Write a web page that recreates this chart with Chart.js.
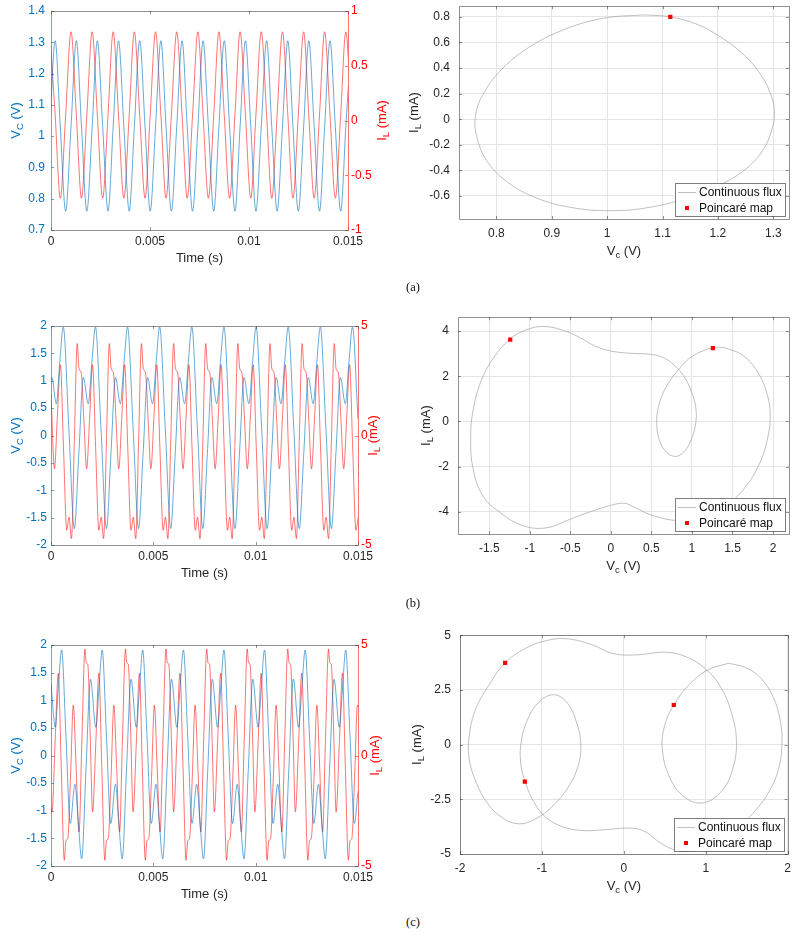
<!DOCTYPE html>
<html lang="en">
<head>
<meta charset="UTF-8"/>
<title>Capacitor voltage, inductor current and phase portraits</title>
<script src="https://cdn.jsdelivr.net/npm/chart.js"></script>
<style>
  body { margin:0; background:#fff; width:799px; height:936px; position:relative; overflow:hidden; }
  .box { position:absolute; }
  .tag { position:absolute; font-family:'Liberation Serif','DejaVu Serif',serif; font-size:12.5px; color:#111; transform:translate(-50%,-50%); }
</style>
</head>
<body>
<div class="box" id="ta"><canvas></canvas></div>
<div class="box" id="pa"><canvas></canvas></div>
<div class="box" id="tb"><canvas></canvas></div>
<div class="box" id="pb"><canvas></canvas></div>
<div class="box" id="tc"><canvas></canvas></div>
<div class="box" id="pc"><canvas></canvas></div>
<div class="tag" style="left:413px;top:287px">(a)</div>
<div class="tag" style="left:413px;top:603px">(b)</div>
<div class="tag" style="left:413px;top:922px">(c)</div>

<script>
// ---------- data (time in ms, V_C in V, I_L in mA) ----------
// (a) period-1 oscillation
const tA = [-0.06, 0.21, 0.47, 0.74, 1.01, 1.28, 1.54, 1.81, 2.08, 2.34, 2.61, 2.88, 3.14, 3.41, 3.68, 3.95,
  4.21, 4.48, 4.75, 5.01, 5.28, 5.55, 5.81, 6.08, 6.35, 6.62, 6.88, 7.15, 7.42, 7.68, 7.95, 8.22, 8.48, 8.75,
  9.02, 9.29, 9.55, 9.82, 10.09, 10.35, 10.62, 10.89, 11.15, 11.42, 11.69, 11.96, 12.22, 12.49, 12.76, 13.02,
  13.29, 13.56, 13.82, 14.09, 14.36, 14.63, 14.89, 15.16];
const vcA = [1.03, 1.305, 1.03, 0.76, 1.03, 1.305, 1.03, 0.76, 1.03, 1.305, 1.03, 0.76, 1.03, 1.305, 1.03, 0.76,
  1.03, 1.305, 1.03, 0.76, 1.03, 1.305, 1.03, 0.76, 1.03, 1.305, 1.03, 0.76, 1.03, 1.305, 1.03, 0.76,
  1.03, 1.305, 1.03, 0.76, 1.03, 1.305, 1.03, 0.76, 1.03, 1.305, 1.03, 0.76, 1.03, 1.305, 1.03, 0.76,
  1.03, 1.305, 1.03, 0.76, 1.03, 1.305, 1.03, 0.76, 1.03, 1.305];
const ilA = [0.81, 0.05, -0.71, 0.05, 0.81, 0.05, -0.71, 0.05, 0.81, 0.05, -0.71, 0.05, 0.81, 0.05, -0.71, 0.05,
  0.81, 0.05, -0.71, 0.05, 0.81, 0.05, -0.71, 0.05, 0.81, 0.05, -0.71, 0.05, 0.81, 0.05, -0.71, 0.05,
  0.81, 0.05, -0.71, 0.05, 0.81, 0.05, -0.71, 0.05, 0.81, 0.05, -0.71, 0.05, 0.81, 0.05, -0.71, 0.05,
  0.81, 0.05, -0.71, 0.05, 0.81, 0.05, -0.71, 0.05, 0.81, 0.05];

// (b) period-2 oscillation
const tVcB = [0, 0.04, 0.26, 0.43,
  0.60, 0.87, 1.14, 1.36, 1.58, 1.82, 2.00,
  2.17, 2.44, 2.71, 2.93, 3.15, 3.39, 3.57,
  3.74, 4.01, 4.28, 4.50, 4.72, 4.96, 5.14,
  5.31, 5.58, 5.85, 6.07, 6.29, 6.53, 6.71,
  6.88, 7.15, 7.42, 7.64, 7.86, 8.10, 8.28,
  8.45, 8.72, 8.99, 9.21, 9.43, 9.67, 9.85,
  10.02, 10.29, 10.56, 10.78, 11.00, 11.24, 11.42,
  11.59, 11.86, 12.13, 12.35, 12.57, 12.81, 12.99,
  13.16, 13.43, 13.70, 13.92, 14.14, 14.38, 14.56,
  14.73, 15.00];
const vcB = [1.02, 1.06, 0.58, 1.35,
  1.98, 0.15, -1.70, -0.33, 1.06, 0.58, 1.35,
  1.98, 0.15, -1.70, -0.33, 1.06, 0.58, 1.35,
  1.98, 0.15, -1.70, -0.33, 1.06, 0.58, 1.35,
  1.98, 0.15, -1.70, -0.33, 1.06, 0.58, 1.35,
  1.98, 0.15, -1.70, -0.33, 1.06, 0.58, 1.35,
  1.98, 0.15, -1.70, -0.33, 1.06, 0.58, 1.35,
  1.98, 0.15, -1.70, -0.33, 1.06, 0.58, 1.35,
  1.98, 0.15, -1.70, -0.33, 1.06, 0.58, 1.35,
  1.98, 0.15, -1.70, -0.33, 1.06, 0.58, 1.35,
  1.98, 0.30];
const tIlB = [0, 0.17, 0.31, 0.46, 0.61,
  0.77, 0.88, 1.00, 1.14, 1.28, 1.37, 1.48, 1.61, 1.74, 1.89, 2.03, 2.18,
  2.34, 2.45, 2.57, 2.71, 2.85, 2.94, 3.05, 3.18, 3.31, 3.46, 3.60, 3.75,
  3.91, 4.02, 4.14, 4.28, 4.42, 4.51, 4.62, 4.75, 4.88, 5.03, 5.17, 5.32,
  5.48, 5.59, 5.71, 5.85, 5.99, 6.08, 6.19, 6.32, 6.45, 6.60, 6.74, 6.89,
  7.05, 7.16, 7.28, 7.42, 7.56, 7.65, 7.76, 7.89, 8.02, 8.17, 8.31, 8.46,
  8.62, 8.73, 8.85, 8.99, 9.13, 9.22, 9.33, 9.46, 9.59, 9.74, 9.88, 10.03,
  10.19, 10.30, 10.42, 10.56, 10.70, 10.79, 10.90, 11.03, 11.16, 11.31, 11.45, 11.60,
  11.76, 11.87, 11.99, 12.13, 12.27, 12.36, 12.47, 12.60, 12.73, 12.88, 13.02, 13.17,
  13.33, 13.44, 13.56, 13.70, 13.84, 13.93, 14.04, 14.17, 14.30, 14.45, 14.59, 14.74,
  14.90, 15.01];
const ilB = [1.9, -1.52, 0.85, 3.23, -0.55,
  -4.33, -3.73, -4.71, -0.25, 4.20, 3.05, 2.85, 0.65, -1.52, 0.85, 3.23, -0.55,
  -4.33, -3.73, -4.71, -0.25, 4.20, 3.05, 2.85, 0.65, -1.52, 0.85, 3.23, -0.55,
  -4.33, -3.73, -4.71, -0.25, 4.20, 3.05, 2.85, 0.65, -1.52, 0.85, 3.23, -0.55,
  -4.33, -3.73, -4.71, -0.25, 4.20, 3.05, 2.85, 0.65, -1.52, 0.85, 3.23, -0.55,
  -4.33, -3.73, -4.71, -0.25, 4.20, 3.05, 2.85, 0.65, -1.52, 0.85, 3.23, -0.55,
  -4.33, -3.73, -4.71, -0.25, 4.20, 3.05, 2.85, 0.65, -1.52, 0.85, 3.23, -0.55,
  -4.33, -3.73, -4.71, -0.25, 4.20, 3.05, 2.85, 0.65, -1.52, 0.85, 3.23, -0.55,
  -4.33, -3.73, -4.71, -0.25, 4.20, 3.05, 2.85, 0.65, -1.52, 0.85, 3.23, -0.55,
  -4.33, -3.73, -4.71, -0.25, 4.20, 3.05, 2.85, 0.65, -1.52, 0.85, 3.23, -0.55,
  -4.33, -3.73];

// (c) period-3 oscillation
const tVcC = [0, 0.21, 0.36,
  0.52, 0.73, 0.94, 1.17, 1.33, 1.50, 1.71, 1.93, 2.19, 2.35,
  2.50, 2.71, 2.92, 3.15, 3.31, 3.48, 3.69, 3.91, 4.17, 4.33,
  4.48, 4.69, 4.90, 5.13, 5.29, 5.46, 5.67, 5.89, 6.15, 6.31,
  6.47, 6.68, 6.89, 7.12, 7.28, 7.45, 7.66, 7.88, 8.14, 8.30,
  8.45, 8.66, 8.87, 9.10, 9.26, 9.43, 9.64, 9.86, 10.12, 10.28,
  10.43, 10.64, 10.85, 11.08, 11.24, 11.41, 11.62, 11.84, 12.10, 12.26,
  12.42, 12.63, 12.84, 13.07, 13.23, 13.40, 13.61, 13.83, 14.09, 14.25,
  14.40, 14.61, 14.82, 15.00];
const vcC = [1.30, 0.51, 1.25,
  1.91, 0.35, -1.23, -0.52, -1.20, -1.87, -0.25, 1.38, 0.51, 1.25,
  1.91, 0.35, -1.23, -0.52, -1.20, -1.87, -0.25, 1.38, 0.51, 1.25,
  1.91, 0.35, -1.23, -0.52, -1.20, -1.87, -0.25, 1.38, 0.51, 1.25,
  1.91, 0.35, -1.23, -0.52, -1.20, -1.87, -0.25, 1.38, 0.51, 1.25,
  1.91, 0.35, -1.23, -0.52, -1.20, -1.87, -0.25, 1.38, 0.51, 1.25,
  1.91, 0.35, -1.23, -0.52, -1.20, -1.87, -0.25, 1.38, 0.51, 1.25,
  1.91, 0.35, -1.23, -0.52, -1.20, -1.87, -0.25, 1.38, 0.51, 1.25,
  1.91, 0.35, -1.23, -0.65];
const tIlC = [0, 0.05, 0.20, 0.355,
  0.50, 0.65, 0.73, 0.82, 0.96, 1.09, 1.23, 1.37, 1.51, 1.66, 1.72, 1.80, 1.92, 2.03, 2.19, 2.34,
  2.48, 2.63, 2.71, 2.80, 2.94, 3.07, 3.21, 3.35, 3.49, 3.64, 3.70, 3.78, 3.90, 4.01, 4.17, 4.32,
  4.46, 4.61, 4.69, 4.78, 4.92, 5.05, 5.19, 5.33, 5.47, 5.62, 5.68, 5.76, 5.88, 5.99, 6.15, 6.30,
  6.45, 6.60, 6.68, 6.77, 6.91, 7.04, 7.18, 7.32, 7.46, 7.61, 7.67, 7.75, 7.87, 7.98, 8.14, 8.29,
  8.43, 8.58, 8.66, 8.75, 8.89, 9.02, 9.16, 9.30, 9.44, 9.59, 9.65, 9.73, 9.85, 9.96, 10.12, 10.27,
  10.41, 10.56, 10.64, 10.73, 10.87, 11.00, 11.14, 11.28, 11.42, 11.57, 11.63, 11.71, 11.83, 11.94, 12.10, 12.25,
  12.40, 12.55, 12.63, 12.72, 12.86, 12.99, 13.13, 13.27, 13.41, 13.56, 13.62, 13.70, 13.82, 13.93, 14.09, 14.24,
  14.38, 14.53, 14.61, 14.70, 14.84, 14.97, 15.00];
const ilC = [-2.3, -2.55, 0.6, 3.72,
  -0.5, -4.74, -3.85, -3.75, -0.8, 2.28, -0.6, -3.46, 0.7, 4.82, 4.2, 4.1, 0.8, -2.55, 0.6, 3.72,
  -0.5, -4.74, -3.85, -3.75, -0.8, 2.28, -0.6, -3.46, 0.7, 4.82, 4.2, 4.1, 0.8, -2.55, 0.6, 3.72,
  -0.5, -4.74, -3.85, -3.75, -0.8, 2.28, -0.6, -3.46, 0.7, 4.82, 4.2, 4.1, 0.8, -2.55, 0.6, 3.72,
  -0.5, -4.74, -3.85, -3.75, -0.8, 2.28, -0.6, -3.46, 0.7, 4.82, 4.2, 4.1, 0.8, -2.55, 0.6, 3.72,
  -0.5, -4.74, -3.85, -3.75, -0.8, 2.28, -0.6, -3.46, 0.7, 4.82, 4.2, 4.1, 0.8, -2.55, 0.6, 3.72,
  -0.5, -4.74, -3.85, -3.75, -0.8, 2.28, -0.6, -3.46, 0.7, 4.82, 4.2, 4.1, 0.8, -2.55, 0.6, 3.72,
  -0.5, -4.74, -3.85, -3.75, -0.8, 2.28, -0.6, -3.46, 0.7, 4.82, 4.2, 4.1, 0.8, -2.55, 0.6, 3.72,
  -0.5, -4.74, -3.85, -3.75, -0.8, 2.28, 2.2];

// phase portraits: continuous flux loops and Poincaré points
const loopVA = [1.066, 1.114, 1.160, 1.200, 1.240, 1.272, 1.293, 1.302, 1.296, 1.280, 1.250, 1.205, 1.145,
  1.075, 1.005, 0.935, 0.872, 0.821, 0.785, 0.766, 0.762, 0.778, 0.812, 0.862, 0.925, 0.995, 1.066];
const loopIA = [0.815, 0.800, 0.745, 0.655, 0.530, 0.380, 0.220, 0.060, -0.100, -0.250, -0.390, -0.510, -0.615,
  -0.690, -0.715, -0.690, -0.615, -0.495, -0.340, -0.160, 0.020, 0.210, 0.400, 0.570, 0.705, 0.790, 0.815];
const mapVA = [1.114];
const mapIA = [0.80];

const loopVB = [1.40, 1.62, 1.80, 1.92, 1.965, 1.93, 1.83, 1.66, 1.45, 1.15, 0.85, 0.50, 0.30, 0.17, 0.02,
  -0.25, -0.50, -0.80, -1.10, -1.38, -1.58, -1.70, -1.73, -1.70, -1.60, -1.45, -1.25, -1.05, -0.83, -0.60,
  -0.40, -0.20, 0.00, 0.25, 0.50, 0.65, 0.78, 0.90, 0.99, 1.05, 1.04, 0.98, 0.90, 0.80, 0.69, 0.60, 0.565,
  0.59, 0.67, 0.80, 0.97, 1.15, 1.26, 1.40];
const loopIB = [3.27, 2.95, 2.25, 1.30, 0.30, -0.80, -1.90, -2.90, -3.65, -4.20, -4.40, -4.15, -3.82, -3.63,
  -3.70, -4.00, -4.33, -4.72, -4.60, -4.00, -3.30, -2.10, -0.80, 0.50, 1.80, 2.80, 3.63, 4.05, 4.21, 4.05,
  3.75, 3.35, 3.12, 3.02, 2.97, 2.82, 2.50, 2.00, 1.35, 0.55, -0.20, -0.90, -1.35, -1.55, -1.38, -0.85,
  -0.05, 0.70, 1.45, 2.15, 2.80, 3.15, 3.25, 3.27];
const mapVB = [-1.242, 1.258];
const mapIB = [3.63, 3.25];

const loopVC = [1.28, 1.50, 1.68, 1.82, 1.91, 1.93, 1.89, 1.78, 1.62, 1.42, 1.18, 0.90, 0.65, 0.45, 0.27,
  0.10, -0.20, -0.50, -0.75, -0.96, -1.10, -1.20, -1.26, -1.25, -1.18, -1.06, -0.87, -0.70, -0.58, -0.525,
  -0.56, -0.68, -0.88, -1.08, -1.28, -1.48, -1.66, -1.80, -1.89, -1.88, -1.80, -1.65, -1.449, -1.20,
  -0.95, -0.70, -0.40, -0.13, 0.15, 0.52, 0.78, 1.00, 1.18, 1.31, 1.375, 1.33, 1.20, 0.97, 0.74, 0.56,
  0.47, 0.50, 0.61, 0.80, 1.02, 1.28];
const loopIC = [3.72, 3.50, 3.00, 2.20, 1.10, 0.00, -1.10, -2.10, -2.95, -3.70, -4.35, -4.80, -4.84, -4.50,
  -4.00, -3.82, -3.88, -3.93, -3.75, -3.30, -2.60, -1.75, -0.80, 0.20, 1.10, 1.85, 2.28, 1.95, 1.05, 0.00,
  -1.00, -1.95, -2.85, -3.40, -3.62, -3.35, -2.70, -1.75, -0.60, 0.60, 1.70, 2.70, 3.73, 4.40,
  4.75, 4.84, 4.58, 4.16, 4.10, 4.22, 3.98, 3.45, 2.65, 1.50, 0.15, -1.10, -2.10, -2.66, -2.40, -1.50,
  -0.20, 0.90, 1.81, 2.75, 3.40, 3.72];
const mapVC = [-1.449, -1.209, 0.61];
const mapIC = [3.73, -1.69, 1.81];

// tick values
const timeTicks = [0, 0.005, 0.01, 0.015];
const vcTicksA = [0.7, 0.8, 0.9, 1, 1.1, 1.2, 1.3, 1.4];
const ilTicksA = [-1, -0.5, 0, 0.5, 1];
const vcTicksBC = [-2, -1.5, -1, -0.5, 0, 0.5, 1, 1.5, 2];
const ilTicksBC = [-5, 0, 5];
const pvTicksA = [0.8, 0.9, 1, 1.1, 1.2, 1.3];
const piTicksA = [-0.6, -0.4, -0.2, 0, 0.2, 0.4, 0.6, 0.8];
const pvTicksB = [-1.5, -1, -0.5, 0, 0.5, 1, 1.5, 2];
const piTicksB = [-4, -2, 0, 2, 4];
const pvTicksC = [-2, -1, 0, 1, 2];
const piTicksC = [-5, -2.5, 0, 2.5, 5];

// ---------- styling ----------
const FONT = "'Liberation Sans', Arial, Helvetica, sans-serif";
const INK = '#262626';
const BLUE = '#0072BD', RED = '#FF0000';
const BLUE_LINE = 'rgba(0,114,189,0.6)', RED_LINE = 'rgba(255,0,0,0.55)';
const AXIS_GREY = 'rgba(38,38,38,0.5)';
const GRID = '#e4e4e4';
const LOOP = 'rgba(150,150,150,0.6)';

const pts = (xs, ys, k = 1) => xs.map((x, i) => ({ x: x * k, y: ys[i] }));
const fmt = v => String(Math.round(v * 10000) / 10000);

function place(id, area, m) {
  const el = document.getElementById(id);
  el.style.left = (area.l - m.l) + 'px';
  el.style.top = (area.t - m.t) + 'px';
  el.style.width = (area.r - area.l + m.l + m.r) + 'px';
  el.style.height = (area.b - area.t + m.t + m.b) + 'px';
  return el.querySelector('canvas');
}

function axis(list, color, pad, extra) {
  return Object.assign({
    type: 'linear',
    afterBuildTicks: s => { s.ticks = list.map(v => ({ value: v })); },
    ticks: { color, padding: pad, font: { family: FONT, size: 12 }, callback: v => fmt(v), autoSkip: false, maxRotation: 0 },
    grid: { display: false, drawTicks: false },
    border: { display: false },
    title: { display: false }
  }, extra);
}

// text with a subscript part, centred on (x, y)
function rich(ctx, parts, x, y, rot, color) {
  const S = 13, s = 9.5;
  ctx.save();
  ctx.translate(x, y);
  ctx.rotate(rot);
  ctx.fillStyle = color;
  ctx.textBaseline = 'middle';
  ctx.textAlign = 'left';
  let w = 0;
  const ws = parts.map(p => { ctx.font = (p[1] ? s : S) + 'px ' + FONT; const m = ctx.measureText(p[0]).width; w += m; return m; });
  let cx = -w / 2;
  parts.forEach((p, i) => { ctx.font = (p[1] ? s : S) + 'px ' + FONT; ctx.fillText(p[0], cx, p[1] ? 4.5 : 0); cx += ws[i]; });
  ctx.restore();
}

function labels(items) {
  return {
    id: 'labels',
    afterDraw(chart) {
      const a = chart.chartArea;
      items.forEach(it => {
        if (it.side === 'bottom') rich(chart.ctx, it.parts, (a.left + a.right) / 2, a.bottom + it.off, 0, it.color);
        else if (it.side === 'left') rich(chart.ctx, it.parts, a.left - it.off, (a.top + a.bottom) / 2, -Math.PI / 2, it.color);
        else rich(chart.ctx, it.parts, a.right + it.off, (a.top + a.bottom) / 2, -Math.PI / 2, it.color);
      });
    }
  };
}

// box with small inward ticks, like the original axes
function frame(c) {
  return {
    id: 'frame',
    afterDatasetsDraw(chart) {
      const { ctx, chartArea: a, scales } = chart;
      const px = v => Math.round(v) + 0.5;
      const seg = (x1, y1, x2, y2, col) => { ctx.strokeStyle = col; ctx.beginPath(); ctx.moveTo(x1, y1); ctx.lineTo(x2, y2); ctx.stroke(); };
      const T = 3;
      ctx.save();
      ctx.lineWidth = 1;
      scales.x.ticks.forEach(t => { const p = px(scales.x.getPixelForValue(t.value)); seg(p, a.bottom, p, a.bottom - T, c.bottom); seg(p, a.top, p, a.top + T, c.top); });
      const yr = scales.y1 || scales.y;
      scales.y.ticks.forEach(t => { const p = px(scales.y.getPixelForValue(t.value)); seg(a.left, p, a.left + T, p, c.left); });
      yr.ticks.forEach(t => { const p = px(yr.getPixelForValue(t.value)); seg(a.right, p, a.right - T, p, c.right); });
      const L = px(a.left), R = px(a.right), Tp = px(a.top), B = px(a.bottom);
      seg(L, Tp, R, Tp, c.top); seg(L, B, R, B, c.bottom);
      seg(L, Tp, L, B, c.left); seg(R, Tp, R, B, c.right);
      ctx.restore();
    }
  };
}

const legendBox = {
  id: 'legendBox',
  afterDraw(chart) {
    const { ctx, chartArea: a } = chart;
    const w = 110, h = 33;
    const x = Math.round(a.right - 4 - w), y = Math.round(a.bottom - 3 - h);
    ctx.save();
    ctx.fillStyle = '#fff';
    ctx.fillRect(x, y, w, h);
    ctx.strokeStyle = 'rgba(38,38,38,0.6)';
    ctx.lineWidth = 1;
    ctx.strokeRect(x + 0.5, y + 0.5, w, h);
    ctx.strokeStyle = LOOP;
    ctx.beginPath(); ctx.moveTo(x + 3, y + 9.5); ctx.lineTo(x + 21, y + 9.5); ctx.stroke();
    ctx.fillStyle = RED;
    ctx.fillRect(x + 10, y + 23, 4, 4);
    ctx.fillStyle = '#111';
    ctx.font = '12px ' + FONT;
    ctx.textBaseline = 'middle';
    ctx.fillText('Continuous flux', x + 24, y + 10);
    ctx.fillText('Poincaré map', x + 24, y + 25.5);
    ctx.restore();
  }
};

const base = {
  responsive: true, maintainAspectRatio: false, animation: false, devicePixelRatio: 1,
  plugins: { legend: { display: false }, tooltip: { enabled: false } },
  elements: { point: { radius: 0 }, line: { borderWidth: 1 } }
};

function timeChart(id, area, d) {
  const m = { l: 51, r: 50, t: 16, b: 42 };
  const cv = place(id, area, m);
  new Chart(cv, {
    type: 'line',
    data: { datasets: [
      { data: pts(d.tv, d.v, 0.001), yAxisID: 'y', borderColor: BLUE_LINE, borderWidth: 1, pointRadius: 0, cubicInterpolationMode: 'monotone', fill: false },
      { data: pts(d.ti, d.i, 0.001), yAxisID: 'y1', borderColor: RED_LINE, borderWidth: 1, pointRadius: 0, cubicInterpolationMode: 'monotone', fill: false }
    ] },
    options: Object.assign({}, base, {
      layout: { padding: { top: m.t } },
      scales: {
        x: axis(timeTicks, INK, 4, { min: 0, max: 0.015, afterFit: s => { s.height = m.b; } }),
        y: axis(d.vt, BLUE, d.lp, { position: 'left', min: d.vt[0], max: d.vt[d.vt.length - 1], afterFit: s => { s.width = m.l; } }),
        y1: axis(d.it, RED, 3, { position: 'right', min: d.it[0], max: d.it[d.it.length - 1], afterFit: s => { s.width = m.r; } })
      }
    }),
    plugins: [
      frame({ top: AXIS_GREY, bottom: AXIS_GREY, left: BLUE_LINE, right: RED_LINE }),
      labels([
        { side: 'bottom', off: 28.5, color: INK, parts: [['Time (s)']] },
        { side: 'left', off: 35, color: BLUE, parts: [['V'], ['C', 1], [' (V)']] },
        { side: 'right', off: d.rOff, color: RED, parts: [['I'], ['L', 1], [' (mA)']] }
      ])
    ]
  });
}

function phaseChart(id, area, d) {
  const m = { l: 56, r: 10, t: 16, b: 45 };
  const cv = place(id, area, m);
  const gridOn = { display: true, color: GRID, drawTicks: false, lineWidth: 1 };
  new Chart(cv, {
    type: 'line',
    data: { datasets: [
      { label: 'Poincaré map', data: pts(d.mv, d.mi), showLine: false, pointStyle: 'rect', pointRadius: 3, pointBackgroundColor: RED, pointBorderWidth: 0, order: 0 },
      { label: 'Continuous flux', data: pts(d.lv, d.li), borderColor: LOOP, borderWidth: 1, tension: 0.4, pointRadius: 0, fill: false, order: 1 }
    ] },
    options: Object.assign({}, base, {
      layout: { padding: { top: m.t, right: m.r } },
      scales: {
        x: axis(d.xt, INK, 7, { min: d.xmin, max: d.xmax, grid: gridOn, afterFit: s => { s.height = m.b; } }),
        y: axis(d.yt, INK, 9, { min: d.ymin, max: d.ymax, grid: gridOn, afterFit: s => { s.width = m.l; } })
      }
    }),
    plugins: [
      frame({ top: AXIS_GREY, bottom: AXIS_GREY, left: AXIS_GREY, right: AXIS_GREY }),
      labels([
        { side: 'bottom', off: 32, color: INK, parts: [['V'], ['c', 1], [' (V)']] },
        { side: 'left', off: d.lOff, color: INK, parts: [['I'], ['L', 1], [' (mA)']] }
      ]),
      legendBox
    ]
  });
}

timeChart('ta', { l: 51, r: 348, t: 11, b: 230 }, { tv: tA, v: vcA, ti: tA, i: ilA, vt: vcTicksA, it: ilTicksA, lp: 6, rOff: 34 });
timeChart('tb', { l: 51, r: 358, t: 326, b: 545 }, { tv: tVcB, v: vcB, ti: tIlB, i: ilB, vt: vcTicksBC, it: ilTicksBC, lp: 4, rOff: 15 });
timeChart('tc', { l: 51, r: 358, t: 645, b: 866 }, { tv: tVcC, v: vcC, ti: tIlC, i: ilC, vt: vcTicksBC, it: ilTicksBC, lp: 4, rOff: 17 });

phaseChart('pa', { l: 459, r: 789, t: 6, b: 219 }, { lv: loopVA, li: loopIA, mv: mapVA, mi: mapIA, xt: pvTicksA, yt: piTicksA,
  xmin: 0.7325, xmax: 1.3283, ymin: -0.78, ymax: 0.883, lOff: 45 });
phaseChart('pb', { l: 458, r: 789, t: 317, b: 534 }, { lv: loopVB, li: loopIB, mv: mapVB, mi: mapIB, xt: pvTicksB, yt: piTicksB,
  xmin: -1.886, xmax: 2.197, ymin: -4.99, ymax: 4.62, lOff: 32 });
phaseChart('pc', { l: 460, r: 788, t: 635, b: 854 }, { lv: loopVC, li: loopIC, mv: mapVC, mi: mapIC, xt: pvTicksC, yt: piTicksC,
  xmin: -2, xmax: 2, ymin: -5, ymax: 5, lOff: 43 });
</script>
</body>
</html>
